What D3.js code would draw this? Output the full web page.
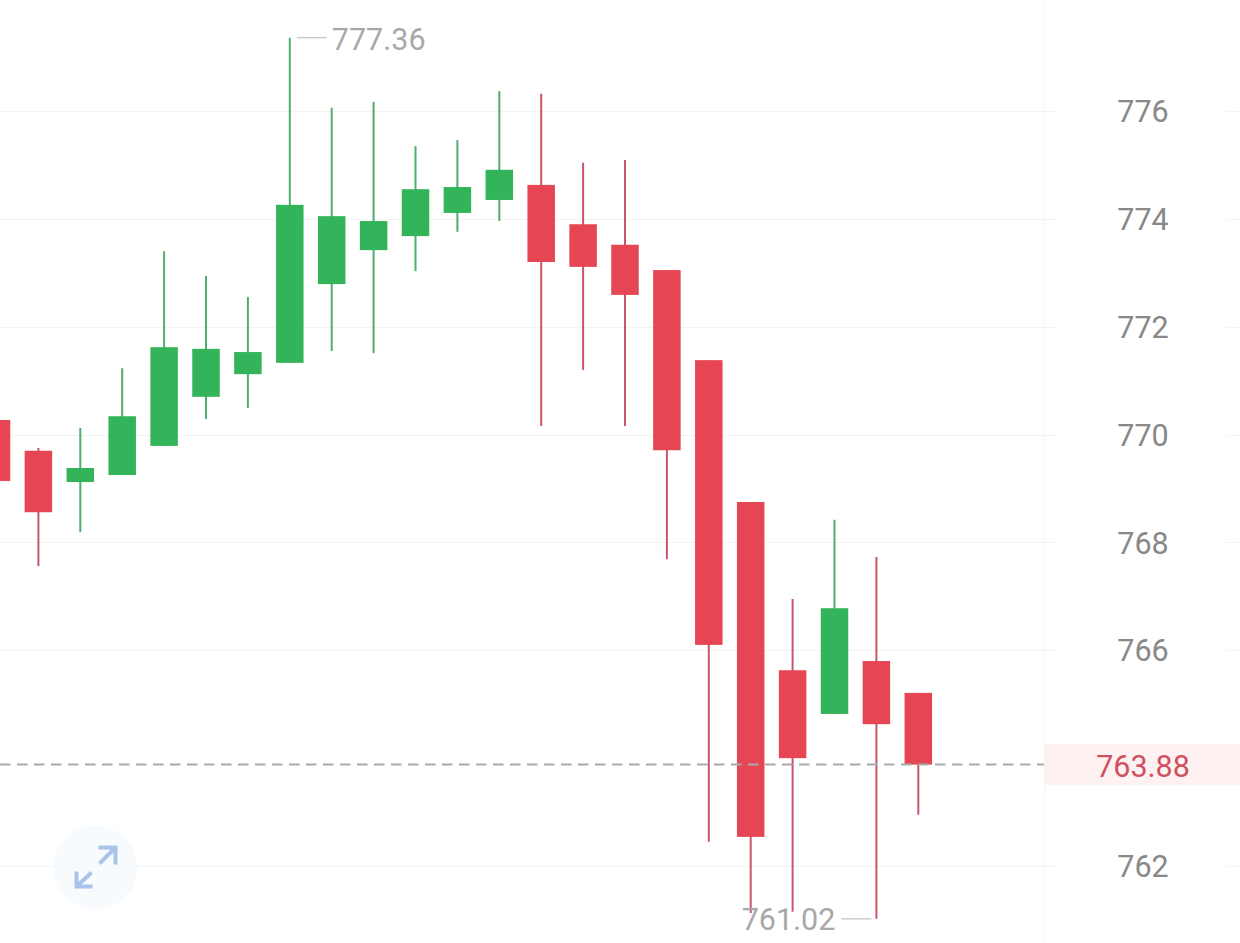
<!DOCTYPE html>
<html>
<head>
<meta charset="utf-8">
<script src="https://d3js.org/d3.v7.min.js"></script>
<style>
    html, body { margin: 0; padding: 0; background: #fff; overflow: hidden; }
    svg { display: block; }
</style>
</head>
<body>
<script>
// Values, one entry per candle, left to right
const opens  = [770.27, 769.70, 769.12, 769.25, 769.79, 770.70, 771.12, 771.33, 772.79, 773.42, 773.68, 774.11, 774.35, 774.63, 773.90, 773.52, 773.05, 771.38, 768.75, 765.63, 764.82, 765.80, 765.21];
const closes = [769.14, 768.56, 769.38, 770.34, 771.62, 771.59, 771.53, 774.26, 774.05, 773.96, 774.55, 774.59, 774.91, 773.20, 773.11, 772.59, 769.71, 766.10, 762.54, 764.00, 766.78, 764.63, 763.88];
const highs  = [770.27, 769.75, 770.12, 771.23, 773.40, 772.94, 772.55, 777.36, 776.06, 776.17, 775.35, 775.46, 776.37, 776.32, 775.04, 775.09, 773.05, 771.38, 768.75, 766.95, 768.42, 767.73, 765.21];
const lows   = [769.14, 767.56, 768.19, 769.25, 769.79, 770.29, 770.49, 771.33, 771.55, 771.51, 773.03, 773.76, 773.96, 770.16, 771.20, 770.16, 767.69, 762.45, 761.13, 761.15, 764.82, 761.02, 762.95];
const yTicks = [762, 766, 768, 770, 772, 774, 776];
const lastPrice = 763.88;
const maxPrice = 777.36;
const minPrice = 761.02;

const width = 1240;
const height = 943;
const axisX = 1044;       // left edge of the price column
const bodyWidth = 27.5;
const labelSize = 30.5;

const upColor = "#34b45a";
const downColor = "#e64553";
const upWick = "#4fae6c";
const downWick = "#c9556a";

const xScale = d3.scaleLinear().domain([0, opens.length - 1]).range([-3.5, 918.3]);
const yScale = d3.scaleLinear().domain([762, 776]).range([866, 111]);

const svg = d3.select("body").append("svg")
    .attr("width", width)
    .attr("height", height)
    .attr("viewBox", `0 0 ${width} ${height}`)
    .style("font-family", "Roboto, sans-serif");

// Grid lines: they run past the column edge, and a short piece comes back on the far right
svg.append("g").selectAll("line")
    .data(yTicks)
    .join("line")
    .attr("x1", 0).attr("x2", 1058)
    .attr("y1", d => Math.round(yScale(d)) + 0.5)
    .attr("y2", d => Math.round(yScale(d)) + 0.5)
    .attr("stroke", "#f3f3f3");

svg.append("g").selectAll("line")
    .data(yTicks)
    .join("line")
    .attr("x1", 1226).attr("x2", width)
    .attr("y1", d => Math.round(yScale(d)) + 0.5)
    .attr("y2", d => Math.round(yScale(d)) + 0.5)
    .attr("stroke", "#f3f3f3");

svg.append("line")
    .attr("x1", axisX + 0.5).attr("x2", axisX + 0.5)
    .attr("y1", 0).attr("y2", height)
    .attr("stroke", "#f6f6f6")
    .attr("stroke-width", 1.5);

// Expand button
const button = svg.append("g").attr("transform", "translate(95.5,867.5)");
button.append("circle").attr("r", 42).attr("fill", "#f5f9fe").attr("fill-opacity", 0.75);
button.append("path")
    .attr("d", "M4,-4 L19,-19 M3,-20 L20,-20 L20,-3 M-4,5 L-18,18 M-19,4 L-19,19 L-3,19")
    .attr("fill", "none")
    .attr("stroke", "#a9c3ea")
    .attr("stroke-width", 4);

// Candles
const candles = svg.append("g").selectAll("g")
    .data(opens.map((d, i) => i))
    .join("g");

candles.append("line")
    .attr("x1", i => xScale(i)).attr("x2", i => xScale(i))
    .attr("y1", i => yScale(highs[i]))
    .attr("y2", i => yScale(lows[i]))
    .attr("stroke", i => closes[i] >= opens[i] ? upWick : downWick)
    .attr("stroke-width", 2);

candles.append("rect")
    .attr("x", i => xScale(i) - bodyWidth / 2)
    .attr("width", bodyWidth)
    .attr("y", i => yScale(Math.max(opens[i], closes[i])))
    .attr("height", i => Math.abs(yScale(opens[i]) - yScale(closes[i])))
    .attr("fill", i => closes[i] >= opens[i] ? upColor : downColor);

// Last price line and its label
svg.append("line")
    .attr("x1", 0).attr("x2", axisX)
    .attr("y1", yScale(lastPrice)).attr("y2", yScale(lastPrice))
    .attr("stroke", "#aaaaaa")
    .attr("stroke-width", 2)
    .attr("stroke-dasharray", "10.5,6.5");

svg.append("rect")
    .attr("x", axisX + 1).attr("width", width - axisX - 1)
    .attr("y", yScale(lastPrice) - 20.5).attr("height", 41)
    .attr("fill", "#fdf2f1");

svg.append("text")
    .attr("x", 1143)
    .attr("y", yScale(lastPrice))
    .attr("dy", "0.4em")
    .attr("text-anchor", "middle")
    .attr("font-size", labelSize)
    .attr("fill", "#d0505f")
    .text(lastPrice.toFixed(2));

// Price axis, labels only
const yAxis = d3.axisRight(yScale).tickValues(yTicks).tickSize(0).tickFormat(d3.format("d"));
const axisG = svg.append("g").call(yAxis);
axisG.select(".domain").remove();
axisG.selectAll("text")
    .attr("x", 1143)
    .attr("dy", "0.35em")
    .attr("text-anchor", "middle")
    .attr("font-size", labelSize)
    .attr("font-family", "Roboto, sans-serif")
    .attr("fill", "#888888");

// High and low callouts
const highX = xScale(highs.indexOf(maxPrice));
const lowX = xScale(lows.indexOf(minPrice));

svg.append("line")
    .attr("x1", highX + 7).attr("x2", highX + 37)
    .attr("y1", yScale(maxPrice)).attr("y2", yScale(maxPrice))
    .attr("stroke", "#cccccc").attr("stroke-width", 1.5);
svg.append("text")
    .attr("x", highX + 42)
    .attr("y", yScale(maxPrice))
    .attr("dy", "0.39em")
    .attr("font-size", labelSize)
    .attr("fill", "#a8a8a8")
    .text(maxPrice.toFixed(2));

svg.append("line")
    .attr("x1", lowX - 35).attr("x2", lowX - 5)
    .attr("y1", yScale(minPrice)).attr("y2", yScale(minPrice))
    .attr("stroke", "#cccccc").attr("stroke-width", 1.5);
svg.append("text")
    .attr("x", lowX - 41)
    .attr("y", yScale(minPrice))
    .attr("dy", "0.36em")
    .attr("text-anchor", "end")
    .attr("font-size", labelSize)
    .attr("fill", "#a8a8a8")
    .text(minPrice.toFixed(2));
</script>
</body>
</html>
